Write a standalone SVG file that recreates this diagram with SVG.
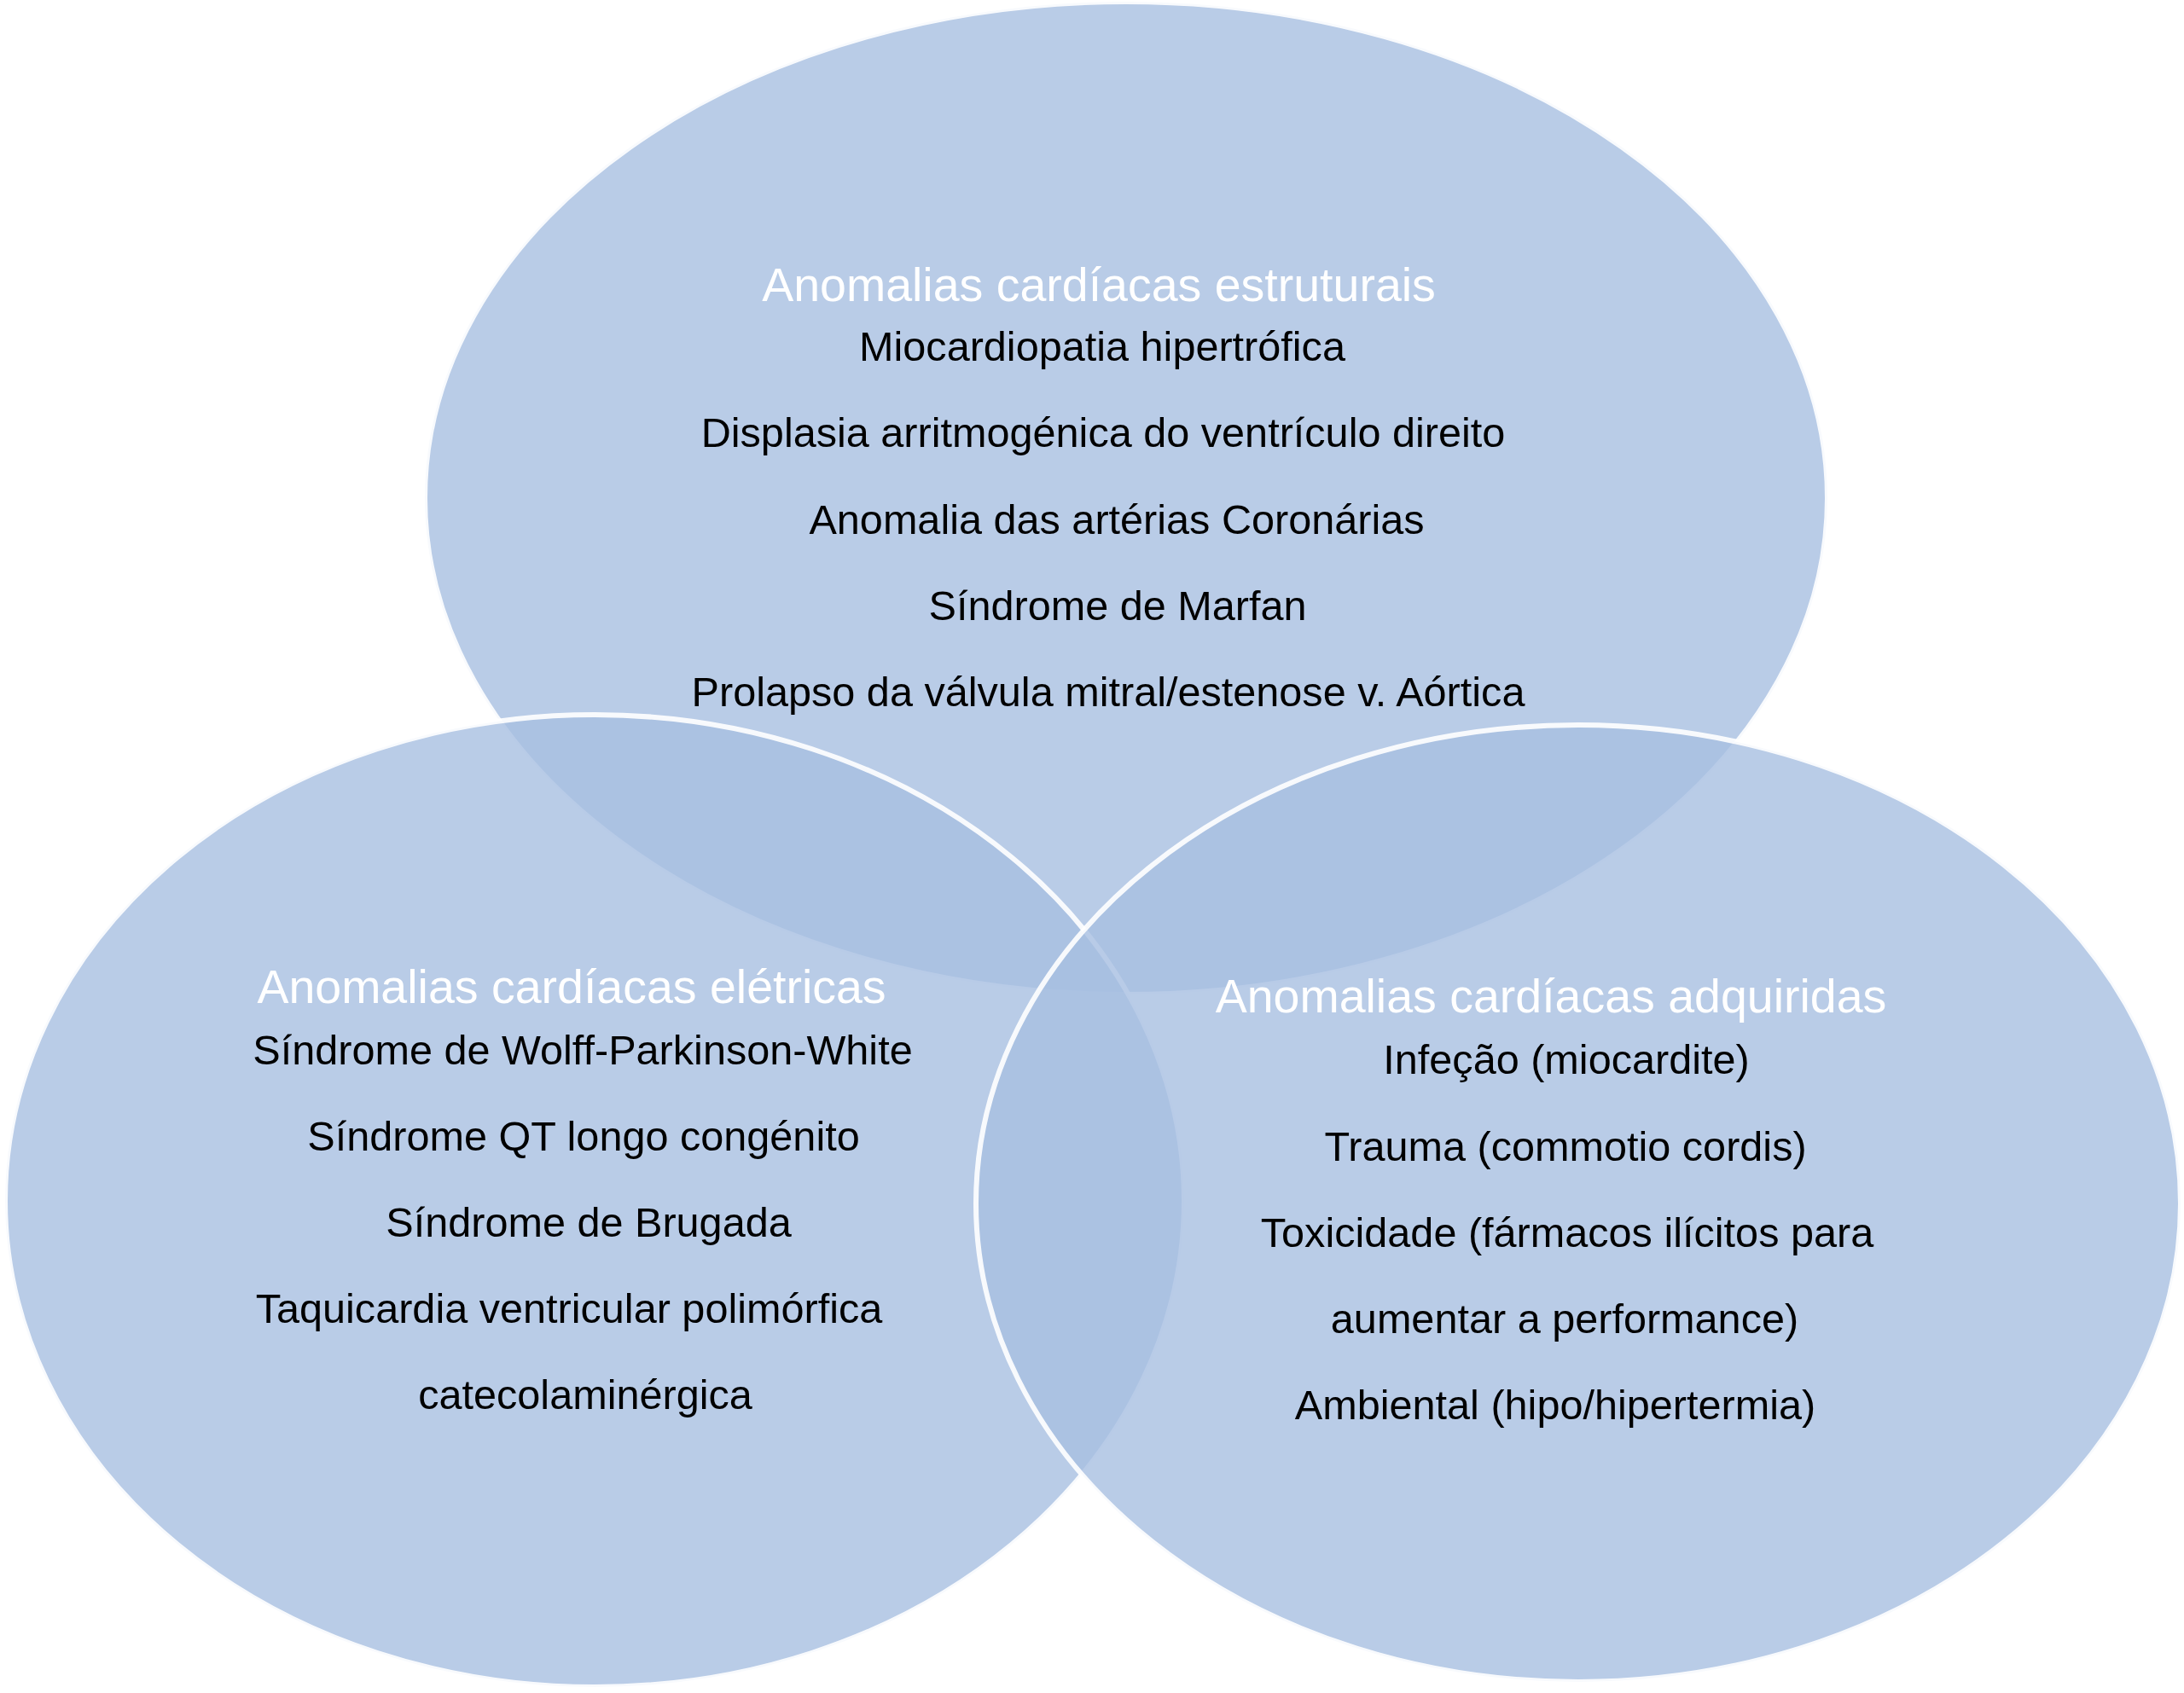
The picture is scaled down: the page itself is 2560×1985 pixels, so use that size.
<svg xmlns="http://www.w3.org/2000/svg" width="2560" height="1985" viewBox="0 0 2560 1985">
<style>
.c{fill:#A8BFE1;fill-opacity:0.8;stroke:#FFFFFF;stroke-width:6;stroke-opacity:0.9}
.t{font-family:"Liberation Sans",Arial,sans-serif;font-size:55.5px;fill:#FFFFFF;text-anchor:middle}
.b{font-family:"Liberation Sans",Arial,sans-serif;font-size:48.6px;fill:#000000;text-anchor:middle}
</style>
<rect width="2560" height="1985" fill="#FFFFFF"/>
<g id="estruturais">
<ellipse class="c" cx="1320" cy="584" rx="822" ry="582"/>
<text class="t" x="1288" y="353">Anomalias cardíacas estruturais</text>
<text class="b" x="1292" y="423">Miocardiopatia hipertrófica</text>
<text class="b" x="1293" y="524">Displasia arritmogénica do ventrículo direito</text>
<text class="b" x="1309" y="626">Anomalia das artérias Coronárias</text>
<text class="b" x="1310" y="727">Síndrome de Marfan</text>
<text class="b" x="1299" y="828">Prolapso da válvula mitral/estenose v. Aórtica</text>
</g>
<g id="eletricas">
<ellipse class="c" cx="697" cy="1408" rx="691" ry="570"/>
<text class="t" x="670" y="1176">Anomalias cardíacas elétricas</text>
<text class="b" x="683" y="1248">Síndrome de Wolff-Parkinson-White</text>
<text class="b" x="684" y="1349">Síndrome QT longo congénito</text>
<text class="b" x="690" y="1450">Síndrome de Brugada</text>
<text class="b" x="667" y="1551">Taquicardia ventricular polimórfica</text>
<text class="b" x="686" y="1652">catecolaminérgica</text>
</g>
<g id="adquiridas">
<ellipse class="c" cx="1850" cy="1411" rx="706" ry="561"/>
<text class="t" x="1818" y="1187">Anomalias cardíacas adquiridas</text>
<text class="b" x="1836" y="1259">Infeção (miocardite)</text>
<text class="b" x="1835" y="1361">Trauma (commotio cordis)</text>
<text class="b" x="1837" y="1462">Toxicidade (fármacos ilícitos para</text>
<text class="b" x="1834" y="1563">aumentar a performance)</text>
<text class="b" x="1823" y="1664">Ambiental (hipo/hipertermia)</text>
</g>
<g id="connectors"/>
</svg>
